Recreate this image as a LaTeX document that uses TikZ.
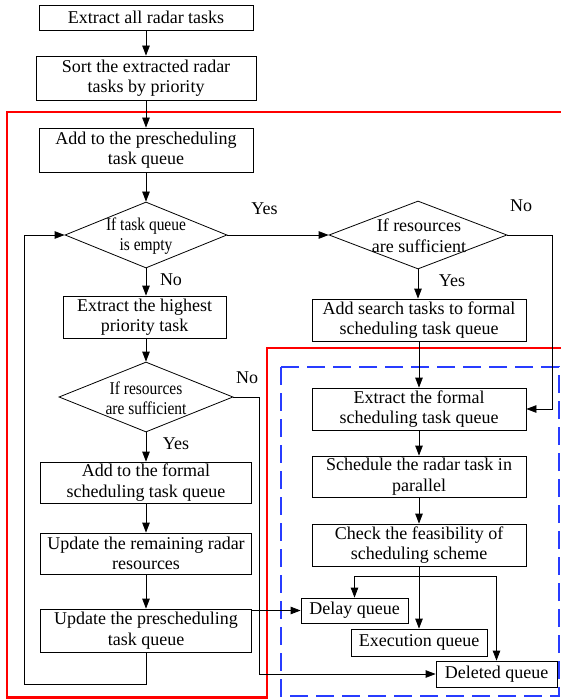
\documentclass[tikz,border=0pt]{standalone}
\usepackage{fontspec}
\usepackage{graphicx}
\setmainfont{Liberation Serif}
\usetikzlibrary{shapes.geometric,arrows.meta}
\newcommand\cnd[1]{\scalebox{0.86}[1]{#1}}
\definecolor{myred}{RGB}{255,0,0}
\definecolor{myblue}{RGB}{40,60,255}
\begin{document}
\begin{tikzpicture}[x=1pt,y=-1pt,
  font=\fontsize{18}{20.5}\selectfont,
  box/.style={draw, line width=0.8pt, inner sep=0pt, align=center},
  dia/.style={draw, diamond, line width=0.8pt, inner sep=0pt},
  arr/.style={-{Triangle[length=10pt,width=7.5pt]}, line width=0.8pt},
  ln/.style={line width=0.8pt},
  lbl/.style={inner sep=0pt},
  txt/.style={inner sep=0pt, align=center}
]
\useasboundingbox (0,0) rectangle (561,700);
\clip (0,0) rectangle (561,700);

% region outlines
\draw[myred, line width=2.6pt] (7,112) -- (575,112) -- (575,348) -- (267,348) -- (267,697.5) -- (7,697.5) -- cycle;
\draw[myblue, line width=2pt, dash pattern=on 18pt off 8pt] (281,367) rectangle (559,696);

% left column
\node[box, minimum width=214pt, minimum height=25pt] (e1) at (146,17.5) {Extract all radar tasks};
\node[box, minimum width=220pt, minimum height=44pt] (sort) at (146,78) {Sort the extracted radar\\tasks by priority};
\node[box, minimum width=214pt, minimum height=44pt] (pre) at (146,150) {Add to the prescheduling\\task queue};
\node[dia, minimum width=162pt, minimum height=66pt] (d1) at (146,235) {};
\node[txt] (d1t) at (146,236) {\cnd{If task queue}\\\cnd{is empty}};
\node[box, minimum width=163pt, minimum height=42pt] (hp) at (144.5,317) {Extract the highest\\priority task};
\node[dia, minimum width=174pt, minimum height=70pt] (d3) at (146,397) {};
\node[txt] (d3t) at (146,398) {\cnd{If resources}\\\cnd{are sufficient}};
\node[box, minimum width=211pt, minimum height=41pt] (af) at (146,482.5) {Add to the formal\\scheduling task queue};
\node[box, minimum width=211pt, minimum height=41pt] (ur) at (146,553.5) {Update the remaining radar\\resources};
\node[box, minimum width=211pt, minimum height=43pt] (up) at (146,630.5) {Update the prescheduling\\task queue};

% right column
\node[dia, minimum width=178pt, minimum height=68pt] (d2) at (418,235) {};
\node[txt] (d2t) at (419,236) {If resources\\are sufficient};
\node[box, minimum width=214pt, minimum height=42pt] (as) at (419,320) {Add search tasks to formal\\scheduling task queue};
\node[box, minimum width=214pt, minimum height=42pt] (ef) at (419,409) {Extract the formal\\scheduling task queue};
\node[box, minimum width=214pt, minimum height=41pt] (sc) at (419,476.5) {Schedule the radar task in\\parallel};
\node[box, minimum width=214pt, minimum height=42pt] (ck) at (419,545) {Check the feasibility of\\scheduling scheme};
\node[box, minimum width=107pt, minimum height=25pt] (dq) at (354.5,610.5) {Delay queue};
\node[box, minimum width=136pt, minimum height=27pt] (eq) at (419,642.5) {Execution queue};
\node[box, minimum width=121pt, minimum height=26pt] (dl) at (496.5,674) {Deleted queue};

% labels
\node[lbl] (y1) at (264.5,209) {Yes};
\node[lbl] (n1) at (521,206) {No};
\node[lbl] (n2) at (171,280) {No};
\node[lbl] (y2) at (452,281) {Yes};
\node[lbl] (n3) at (247,378) {No};
\node[lbl] (y3) at (176,444) {Yes};

% coordinates
\coordinate (lbot) at (24,684);
\coordinate (lcorner) at (24,235);
\coordinate (nr) at (259,397);
\coordinate (rr) at (552,235);
\coordinate (br) at (419,576);

% connectors left
\draw[arr] (e1) -- (sort);
\draw[arr] (sort) -- (pre);
\draw[arr] (pre) -- (d1.north);
\draw[arr] (d1.south) -- (d1.south |- hp.north);
\draw[arr] (hp.south -| d3.north) -- (d3.north);
\draw[arr] (d3.south) -- (af.north);
\draw[arr] (af) -- (ur);
\draw[arr] (ur) -- (up);
\draw[arr] (up.south) -- (up.south |- lbot) -- (lbot) -- (lcorner) -- (d1.west);
\draw[arr] (d1.east) -- (d2.west);
\draw[arr] (d3.east) -- (nr) -- (nr |- dl.west) -- (dl.west);
\draw[arr] (up.east |- dq.west) -- (dq.west);

% connectors right
\draw[arr] (d2.south) -- (d2.south |- as.north);
\draw[arr] (d2.east) -- (rr) -- (rr |- ef.east) -- (ef.east);
\draw[arr] (as.south) -- (ef.north);
\draw[arr] (ef) -- (sc);
\draw[arr] (sc) -- (ck);
\draw[arr] (ck.south) -- (eq.north);
\draw[arr] (br) -| (dq.north);
\draw[arr] (br) -| (dl.north);
\end{tikzpicture}
\end{document}
